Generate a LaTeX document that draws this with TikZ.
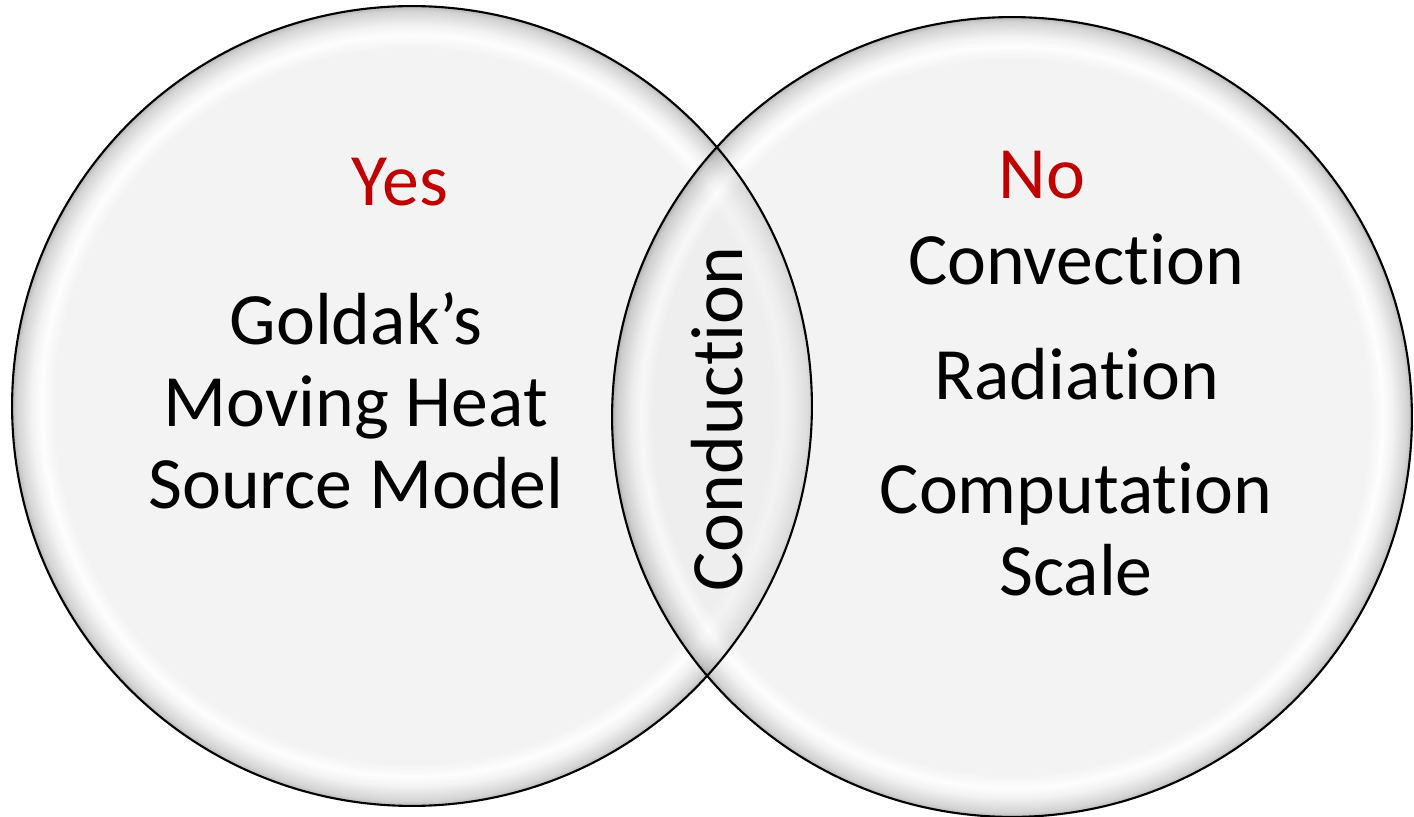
\documentclass[tikz,border=0pt]{standalone}
\usepackage{fontspec}
\setmainfont{Carlito}[Ligatures={NoCommon}]
\usepackage{xcolor}
\usepackage{tikz}
\usetikzlibrary{positioning}
\definecolor{answerred}{HTML}{C00000}
\pgfdeclareradialshading{glassball}{\pgfpoint{0bp}{0bp}}{%
  color(0bp)=(white!91!black);
  color(22.4bp)=(white!91!black);
  color(23.2bp)=(white!99!black);
  color(23.8bp)=(white!90!black);
  color(24.7bp)=(white!66!black);
  color(25bp)=(white!45!black);
  color(50bp)=(white!45!black)}
\tikzset{
  bubble/.style={
    circle,
    inner sep = 0pt,
    minimum size = 16cm,
    shading = glassball,
    fill opacity = 0.5
  },
  rim/.style={
    draw = black,
    line width = 1.2pt
  },
  vennword/.style={
    font = \fontsize{42}{46.4}\selectfont,
    align = center,
    anchor = base,
    inner sep = 0pt
  }
}

\begin{document}
\begin{tikzpicture}[x=0.02cm, y=0.02cm]
\useasboundingbox (0,0) rectangle (1414,816);
\newcommand\XYes{412}
\newcommand\XNo{1012}
% the two circles
\node[bubble] (yesball) at (\XYes,410) {};
\node[bubble] (noball) at (\XNo,399) {};
\foreach \ball in {yesball, noball}
  \draw[rim] (\ball.center) circle[radius=8cm];
% left side
\node[vennword, text=answerred] (yes) at (\XYes-12,610) {Yes};
\node[vennword] (goldak) at (\XYes-56,308) {Goldak’s\\Moving Heat\\Source Model};
% overlap
\node[vennword, rotate=90] (conduction) at (742,397) {Conduction};
% right side
\node[vennword, text=answerred] (no) at (\XNo+30,617) {No};
\node[vennword] (convection) at (\XNo+64,531) {Convection};
\node[vennword] (radiation) at (\XNo+65,417) {Radiation};
\node[vennword] (computation) at (\XNo+64,221) {Computation\\Scale};
\end{tikzpicture}
\end{document}
